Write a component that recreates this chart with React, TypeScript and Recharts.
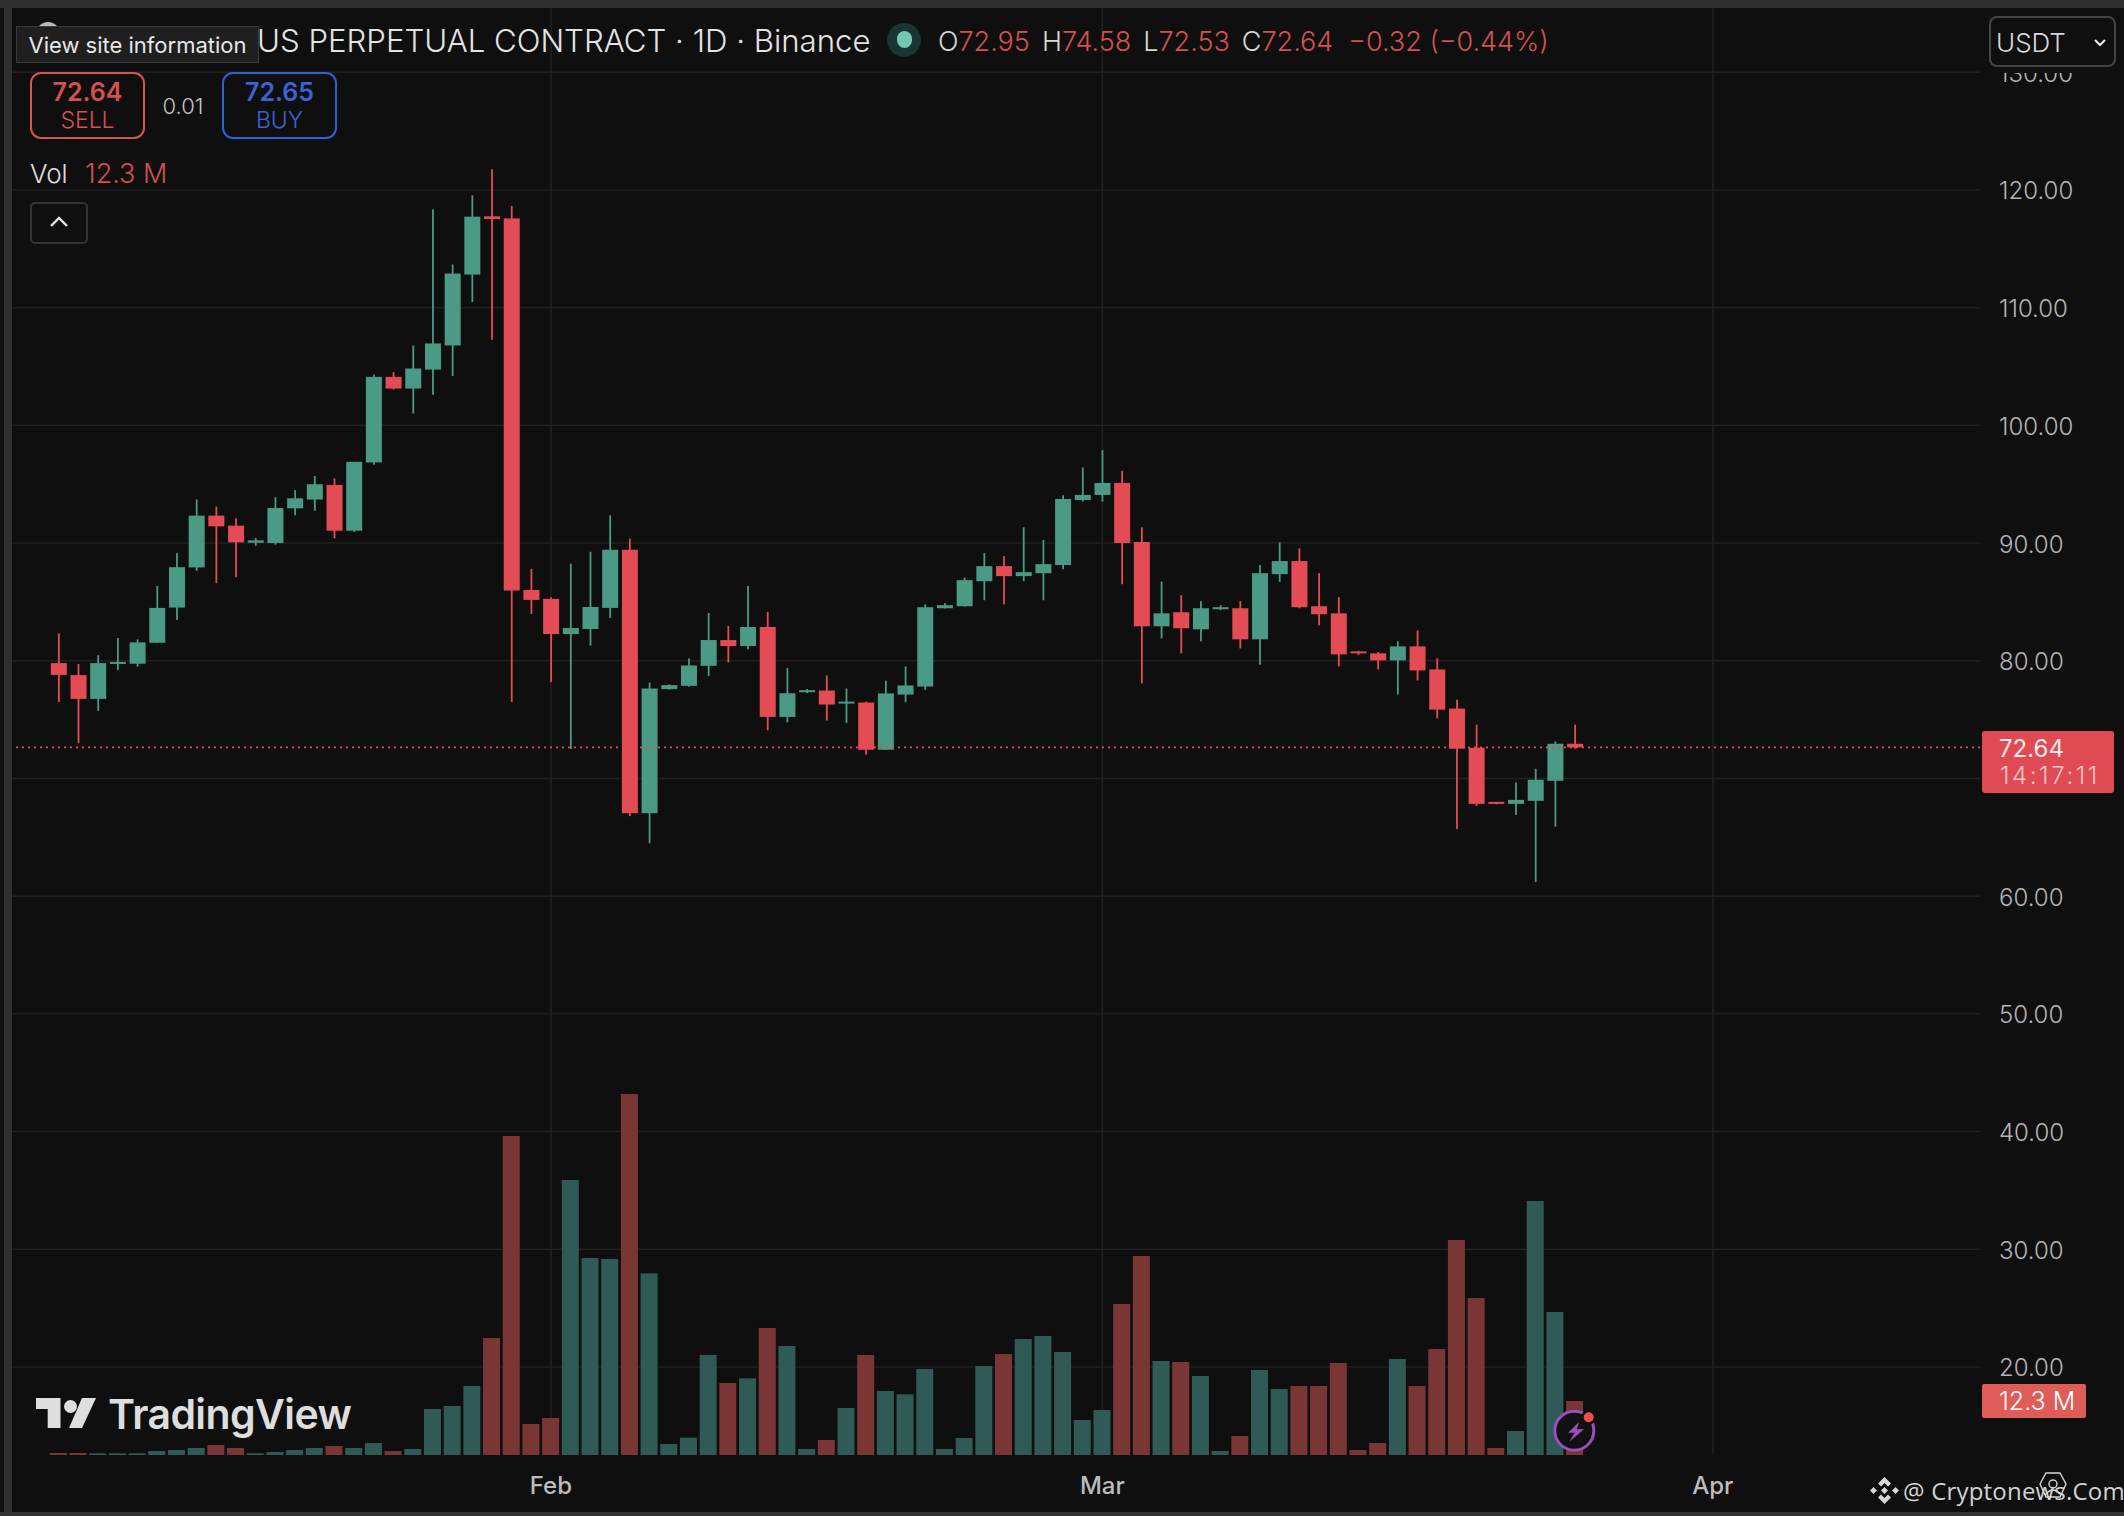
import { Bar, CartesianGrid, ComposedChart, ReferenceLine, XAxis, YAxis } from 'recharts'

// daily candles, index 0 = Jan 7
const opens = [79.8, 78.78, 76.76, 79.75, 79.75, 81.53, 84.52, 87.93, 92.33, 91.48, 90.03, 90.0, 92.95, 93.7, 94.94, 91.05, 96.85, 104.12, 103.13, 104.74, 106.79, 112.81, 117.76, 117.58, 86.02, 85.26, 82.27, 82.7, 84.49, 89.43, 67.05, 77.59, 77.87, 79.57, 81.76, 81.25, 82.87, 75.23, 77.33, 77.47, 76.36, 76.45, 72.44, 77.13, 77.81, 84.46, 84.63, 86.76, 88.04, 87.19, 87.44, 88.13, 93.66, 94.09, 95.11, 90.09, 82.93, 84.12, 82.67, 84.38, 84.46, 81.82, 87.36, 88.47, 84.63, 84.03, 80.8, 80.63, 80.03, 81.22, 79.26, 75.94, 72.61, 68.01, 67.84, 68.1, 69.8, 72.95]
const highs = [82.33, 79.72, 80.48, 81.93, 81.82, 86.36, 89.15, 93.7, 93.1, 92.1, 90.43, 93.9, 94.5, 95.7, 95.5, 96.9, 104.32, 104.52, 106.79, 118.35, 113.67, 119.55, 121.76, 118.64, 87.81, 85.4, 88.24, 89.26, 92.36, 90.37, 78.15, 78.0, 80.2, 84.06, 82.95, 86.36, 84.15, 79.38, 77.6, 78.75, 77.64, 76.53, 78.3, 79.52, 84.8, 84.89, 87.07, 89.15, 88.89, 91.34, 90.26, 94.06, 96.42, 97.9, 96.14, 91.34, 86.73, 85.57, 85.06, 84.72, 85.06, 88.13, 90.06, 89.55, 87.44, 85.4, 80.85, 80.74, 81.65, 82.58, 80.2, 76.7, 74.57, 68.01, 69.66, 70.82, 73.15, 74.58]
const lows = [76.5, 73.0, 75.74, 79.2, 79.49, 81.53, 83.47, 87.64, 86.6, 87.1, 89.77, 89.86, 92.36, 92.75, 90.4, 90.95, 96.65, 103.04, 101.0, 102.6, 104.2, 110.48, 107.27, 76.5, 83.98, 78.2, 72.5, 81.28, 83.64, 66.8, 64.49, 77.55, 77.8, 78.7, 79.86, 80.97, 74.09, 74.77, 77.25, 74.91, 74.72, 72.02, 72.44, 76.48, 77.53, 84.44, 84.6, 85.14, 84.8, 86.76, 85.14, 87.78, 93.52, 93.52, 86.5, 78.07, 81.9, 80.63, 81.65, 84.3, 81.05, 79.66, 86.7, 84.46, 83.01, 79.52, 80.5, 79.26, 77.13, 78.32, 75.11, 65.7, 67.67, 67.8, 66.9, 61.2, 65.9, 72.53]
const closes = [78.8, 76.76, 79.8, 79.9, 81.56, 84.49, 87.95, 92.33, 91.42, 90.06, 90.23, 92.98, 93.8, 95.0, 91.05, 96.9, 104.12, 103.13, 104.83, 106.96, 112.9, 117.73, 117.53, 85.97, 85.17, 82.27, 82.78, 84.57, 89.43, 67.05, 77.64, 77.93, 79.6, 81.76, 81.25, 82.87, 75.23, 77.24, 77.5, 76.28, 76.53, 72.44, 77.22, 77.9, 84.55, 84.72, 86.85, 88.04, 87.19, 87.53, 88.21, 93.75, 94.09, 95.11, 90.0, 82.93, 84.03, 82.76, 84.46, 84.55, 81.82, 87.44, 88.47, 84.55, 83.95, 80.54, 80.63, 80.03, 81.22, 79.18, 75.85, 72.53, 67.84, 67.84, 68.18, 69.89, 72.95, 72.64]
// volume in millions
const volumes = [0.46, 0.46, 0.38, 0.38, 0.38, 0.9, 1.14, 1.6, 2.28, 1.6, 0.38, 0.68, 1.14, 1.6, 2.05, 1.6, 2.73, 0.9, 1.37, 10.48, 11.16, 15.72, 26.65, 72.67, 7.06, 8.43, 62.64, 44.87, 44.65, 82.23, 41.38, 2.5, 3.95, 22.78, 16.4, 17.46, 28.93, 24.83, 1.37, 3.42, 10.7, 22.78, 14.58, 13.82, 19.59, 1.37, 3.87, 20.27, 23.0, 26.42, 27.11, 23.46, 7.97, 10.25, 34.4, 45.33, 21.41, 21.18, 18.0, 0.91, 4.33, 19.36, 15.03, 15.72, 15.72, 20.96, 1.14, 2.73, 21.87, 15.72, 24.15, 48.97, 35.76, 1.6, 5.47, 57.86, 32.57, 12.3]

const priceTicks = [20, 30, 40, 50, 60, 70, 80, 90, 100, 110, 120, 130]
const monthTicks = [25, 53, 84]
const monthLabels: Record<number, string> = { 25: 'Feb', 53: 'Mar', 84: 'Apr' }
const lastPrice = 72.64

const rows = opens.map((open, i) => ({
  day: i,
  open,
  high: highs[i],
  low: lows[i],
  close: closes[i],
  range: [lows[i], highs[i]],
  volume: volumes[i],
}))

const FONT = 'Inter, Roboto, sans-serif'
const BG = '#0f0f0f'
const UP = '#4a9a85'
const DOWN = '#e34c54'
const VOL_UP = '#2f5a55'
const VOL_DOWN = '#7a3634'
const RED_TEXT = '#d5504e'

function Candle(props: any) {
  const { x, y, width, height, payload } = props
  const { open, high, low, close } = payload
  const perUnit = height / (high - low)
  const color = close >= open ? UP : DOWN
  const cx = x + width / 2
  const top = y + (high - Math.max(open, close)) * perUnit
  const bodyH = Math.max(Math.abs(open - close) * perUnit, 2)
  return (
    <g>
      <rect x={cx - 0.9} y={y} width={1.8} height={height} fill={color} />
      <rect x={x} y={top} width={width} height={bodyH} fill={color} />
    </g>
  )
}

function VolumeBar(props: any) {
  const { x, y, width, height, payload } = props
  return <rect x={x} y={y} width={width} height={height} fill={payload.close >= payload.open ? VOL_UP : VOL_DOWN} />
}

function Label({ x, y, w, h, children, style }: any) {
  return (
    <div style={{ position: 'absolute', left: x, top: y, width: w, height: h, display: 'flex', alignItems: 'center', justifyContent: 'center', whiteSpace: 'nowrap', fontFamily: FONT, ...style }}>
      {children}
    </div>
  )
}

function Ohlc() {
  const items = [['O', '72.95'], ['H', '74.58'], ['L', '72.53'], ['C', '72.64']]
  return (
    <div style={{ position: 'absolute', left: 938, top: 24, height: 34, display: 'flex', alignItems: 'center', whiteSpace: 'nowrap', fontFamily: FONT, fontSize: 27, fontWeight: 300 }}>
      {items.map(([k, v]) => (
        <span key={k} style={{ marginRight: 12 }}>
          <span style={{ color: '#d8d8d8' }}>{k}</span>
          <span style={{ color: RED_TEXT }}>{v}</span>
        </span>
      ))}
      <span style={{ color: RED_TEXT, marginLeft: 3 }}>−0.32 (−0.44%)</span>
    </div>
  )
}

function Overlays() {
  return (
    <>
      {/* window frame */}
      <div style={{ position: 'absolute', left: 0, top: 0, width: 2124, height: 8, background: '#2f2f2f' }} />
      <div style={{ position: 'absolute', left: 4, top: 8, width: 8, height: 1504, background: '#2f2f2f' }} />
      <div style={{ position: 'absolute', left: 0, top: 1512, width: 2124, height: 4, background: '#333' }} />

      {/* header */}
      <div style={{ position: 'absolute', left: 36, top: 22, width: 24, height: 24, borderRadius: 12, background: '#bbb' }} />
      <Label x={257} y={22} w={630} h={38} style={{ color: '#e4e4e4', fontSize: 31.2, fontWeight: 300, justifyContent: 'flex-start' }}>
        US PERPETUAL CONTRACT · 1D · Binance
      </Label>
      <Label x={16} y={26} w={243} h={37} style={{ background: '#1f1f1f', border: '1px solid #3a3a3a', boxSizing: 'border-box', color: '#e8e8e8', fontSize: 22 }}>
        View site information
      </Label>
      <div style={{ position: 'absolute', left: 887, top: 23, width: 34, height: 34, borderRadius: 17, background: '#1a3531' }} />
      <div style={{ position: 'absolute', left: 897, top: 31, width: 15, height: 17, borderRadius: 9, background: '#72c6b2' }} />
      <Ohlc />

      {/* sell / buy */}
      <div style={{ position: 'absolute', left: 30, top: 72, width: 115, height: 67, boxSizing: 'border-box', border: '2px solid #d9534f', borderRadius: 11 }} />
      <Label x={30} y={76} w={115} h={32} style={{ color: RED_TEXT, fontSize: 25, fontWeight: 600 }}>72.64</Label>
      <Label x={30} y={106} w={115} h={28} style={{ color: RED_TEXT, fontSize: 23, fontWeight: 300 }}>SELL</Label>
      <Label x={150} y={92} w={66} h={28} style={{ color: '#c4c4c4', fontSize: 22, fontWeight: 300 }}>0.01</Label>
      <div style={{ position: 'absolute', left: 222, top: 72, width: 115, height: 67, boxSizing: 'border-box', border: '2px solid #2f5fdc', borderRadius: 11 }} />
      <Label x={222} y={76} w={115} h={32} style={{ color: '#3a63d8', fontSize: 25, fontWeight: 600 }}>72.65</Label>
      <Label x={222} y={106} w={115} h={28} style={{ color: '#3a63d8', fontSize: 23, fontWeight: 300 }}>BUY</Label>

      {/* volume legend */}
      <Label x={30} y={156} w={40} h={34} style={{ color: '#e0e0e0', fontSize: 26, fontWeight: 300, justifyContent: 'flex-start' }}>Vol</Label>
      <Label x={85} y={156} w={90} h={34} style={{ color: RED_TEXT, fontSize: 27, fontWeight: 300, justifyContent: 'flex-start' }}>12.3 M</Label>
      <div style={{ position: 'absolute', left: 30, top: 202, width: 58, height: 42, boxSizing: 'border-box', border: '2px solid #333', borderRadius: 5 }} />
      <svg style={{ position: 'absolute', left: 30, top: 202 }} width={58} height={42}>
        <path d="M21 24 L29 16 L37 24" fill="none" stroke="#e6e6e6" strokeWidth={2.4} />
      </svg>

      {/* currency select, also clips the top price label */}
      <div style={{ position: 'absolute', left: 1984, top: 8, width: 140, height: 65, background: BG }} />
      <div style={{ position: 'absolute', left: 1989, top: 16, width: 127, height: 51, boxSizing: 'border-box', border: '2px solid #444', borderRadius: 8 }} />
      <Label x={1996} y={24} w={80} h={36} style={{ color: '#d8d8d8', fontSize: 26, fontWeight: 300, justifyContent: 'flex-start' }}>USDT</Label>
      <svg style={{ position: 'absolute', left: 2090, top: 32 }} width={20} height={20}>
        <path d="M5 8 L10 13 L15 8" fill="none" stroke="#e6e6e6" strokeWidth={2.2} />
      </svg>

      {/* last price tags */}
      <div style={{ position: 'absolute', left: 1982, top: 731, width: 132, height: 62, background: '#e04a52', borderRadius: 3 }} />
      <Label x={1999} y={733} w={100} h={30} style={{ color: '#fbe9ea', fontSize: 24, fontWeight: 400, justifyContent: 'flex-start' }}>72.64</Label>
      <Label x={2000} y={760} w={112} h={30} style={{ color: '#f5c9cb', fontSize: 24, fontWeight: 300, letterSpacing: 2.6, justifyContent: 'flex-start' }}>14:17:11</Label>
      <div style={{ position: 'absolute', left: 1982, top: 1384, width: 104, height: 34, background: '#df5c58', borderRadius: 2 }} />
      <Label x={1999} y={1385} w={86} h={32} style={{ color: '#fff', fontSize: 25, fontWeight: 300, justifyContent: 'flex-start' }}>12.3 M</Label>

      {/* TradingView watermark */}
      <svg style={{ position: 'absolute', left: 36, top: 1398 }} width={62} height={32}>
        <path d="M0 0 H24.5 V30 H11.7 V11 H0 Z" fill="#dedede" />
        <circle cx={34.5} cy={8.5} r={6.5} fill="#dedede" />
        <path d="M46 0 H60 L46 30 H33 Z" fill="#dedede" />
      </svg>
      <Label x={108} y={1391} w={260} h={46} style={{ color: '#dedede', fontSize: 41, fontWeight: 600, justifyContent: 'flex-start', letterSpacing: -0.6 }}>TradingView</Label>

      {/* lightning badge */}
      <svg style={{ position: 'absolute', left: 1548, top: 1404 }} width={54} height={54}>
        <circle cx={26.3} cy={26.7} r={19.5} fill="#111" stroke="#9a4fc0" strokeWidth={3} />
        <path d="M31.3 17.7 L20 28.7 H26.7 L21.3 37.7 L36 25.3 H28.7 Z" fill="#9a4fc0" />
        <circle cx={40.7} cy={13.3} r={7.5} fill="#111" />
        <circle cx={40.7} cy={13.3} r={5} fill="#e8504e" />
      </svg>

      {/* source credit */}
      <svg style={{ position: 'absolute', left: 1870, top: 1476 }} width={30} height={30}>
        <path d="M14.5 1 L21 7.5 L18 10.5 L14.5 7 L11 10.5 L8 7.5 Z M14.5 28 L8 21.5 L11 18.5 L14.5 22 L18 18.5 L21 21.5 Z M3.5 11 L7 14.5 L3.5 18 L0 14.5 Z M25.5 11 L29 14.5 L25.5 18 L22 14.5 Z M14.5 11 L18 14.5 L14.5 18 L11 14.5 Z" fill="#d6d6d6" />
      </svg>
      <Label x={1903} y={1472} w={215} h={36} style={{ color: '#d2d2d2', fontSize: 24, fontFamily: '"Open Sans", sans-serif', letterSpacing: 0.2, justifyContent: 'flex-start' }}>@ Cryptonews.Com</Label>
      <svg style={{ position: 'absolute', left: 2038, top: 1471 }} width={30} height={30}>
        <path d="M8 2 H22 L28 13 L22 26 H8 L2 13 Z" fill="none" stroke="#d6d6d6" strokeWidth={1.4} />
        <circle cx={15} cy={13} r={4} fill="none" stroke="#d6d6d6" strokeWidth={1.4} />
        <path d="M7 24 Q15 14 23 24" fill="none" stroke="#d6d6d6" strokeWidth={1.4} />
      </svg>
    </>
  )
}

export default function App() {
  return (
    <div style={{ position: 'absolute', left: 0, top: 0, width: 2124, height: 1516, background: BG, overflow: 'hidden' }}>
      <div style={{ position: 'absolute', left: 0, top: 0, width: 4, height: 1516, background: '#111' }} />
      <ComposedChart
        width={2124}
        height={1516}
        data={rows}
        margin={{ top: 8, right: 0, bottom: 0, left: 12 }}
        style={{ position: 'absolute', left: 0, top: 0 }}
      >
        <CartesianGrid stroke="#212121" strokeWidth={1.5} syncWithTicks />
        <XAxis
          dataKey="day"
          type="number"
          domain={[-2.37, 97.57]}
          allowDataOverflow
          ticks={monthTicks}
          interval={0}
          height={61}
          axisLine={false}
          tickLine={false}
          tickMargin={16}
          tickFormatter={(v) => monthLabels[v]}
          tick={{ fill: '#bcbcbc', fontSize: 24, fontWeight: 500, fontFamily: FONT }}
        />
        <XAxis xAxisId="vol" dataKey="day" type="number" domain={[-2.37, 97.57]} allowDataOverflow hide />
        <YAxis
          orientation="right"
          width={144}
          domain={[12.52, 135.46]}
          allowDataOverflow
          ticks={priceTicks}
          interval={0}
          axisLine={false}
          tickLine={false}
          tickMargin={13}
          // the 70 label sits under the last price tag
          tickFormatter={(v) => (v === 70 ? '' : v.toFixed(2))}
          tick={{ fill: '#b4b4b4', fontSize: 24, fontWeight: 300, fontFamily: FONT, textAnchor: 'start', dy: 1 }}
        />
        <YAxis yAxisId="vol" hide domain={[0, 329.6]} allowDataOverflow />
        <Bar xAxisId="vol" yAxisId="vol" dataKey="volume" barSize={17} shape={VolumeBar} isAnimationActive={false} />
        <ReferenceLine y={lastPrice} stroke="#e34c54" strokeDasharray="2 4" strokeWidth={1.6} />
        <Bar dataKey="range" barSize={16} shape={Candle} isAnimationActive={false} />
      </ComposedChart>
      <Overlays />
    </div>
  )
}
